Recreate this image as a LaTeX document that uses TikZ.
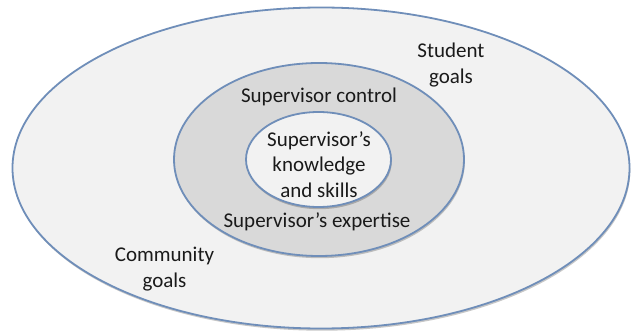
\documentclass[tikz,border=0pt]{standalone}
\usepackage{fontspec}
\setmainfont{Carlito}
\usetikzlibrary{shapes.geometric,shadows}
\definecolor{rim}{HTML}{6F8EB9}
\definecolor{paleFill}{HTML}{F2F2F2}
\definecolor{midFill}{HTML}{D9D9D9}
\definecolor{ink}{HTML}{1A1A1A}
\tikzset{
  ring/.style={ellipse, draw=rim, line width=1.8pt, inner sep=0pt,
    drop shadow={shadow xshift=0.8pt, shadow yshift=-2.2pt, fill=black, opacity=0.22}},
  label/.style={text=ink, font=\fontsize{21}{25.5}\selectfont, align=center, inner sep=0pt}
}
\begin{document}
\begin{tikzpicture}[x=1pt,y=-1pt]
  \useasboundingbox[fill=white] (0,0) rectangle (633,334);
  % nested ellipses
  \node[ring, fill=paleFill, minimum width=617pt, minimum height=321pt] (outer) at (321,168) {};
  \node[ring, fill=midFill, minimum width=290pt, minimum height=193pt] (middle) at (319,159.5) {};
  \node[ring, fill=paleFill, minimum width=145pt, minimum height=95pt] (core) at (318.5,159.5) {};
  % labels
  \node[label] (student) at (451,65) {Student\\goals};
  \node[label] (community) at (164.5,269) {Community\\goals};
  \node[label] (control) at (319,97) {Supervisor control};
  \node[label] (knowledge) at (319,164.5) {Supervisor’s\\knowledge\\and skills};
  \node[label] (expertise) at (317,222) {Supervisor’s expertise};
\end{tikzpicture}
\end{document}
